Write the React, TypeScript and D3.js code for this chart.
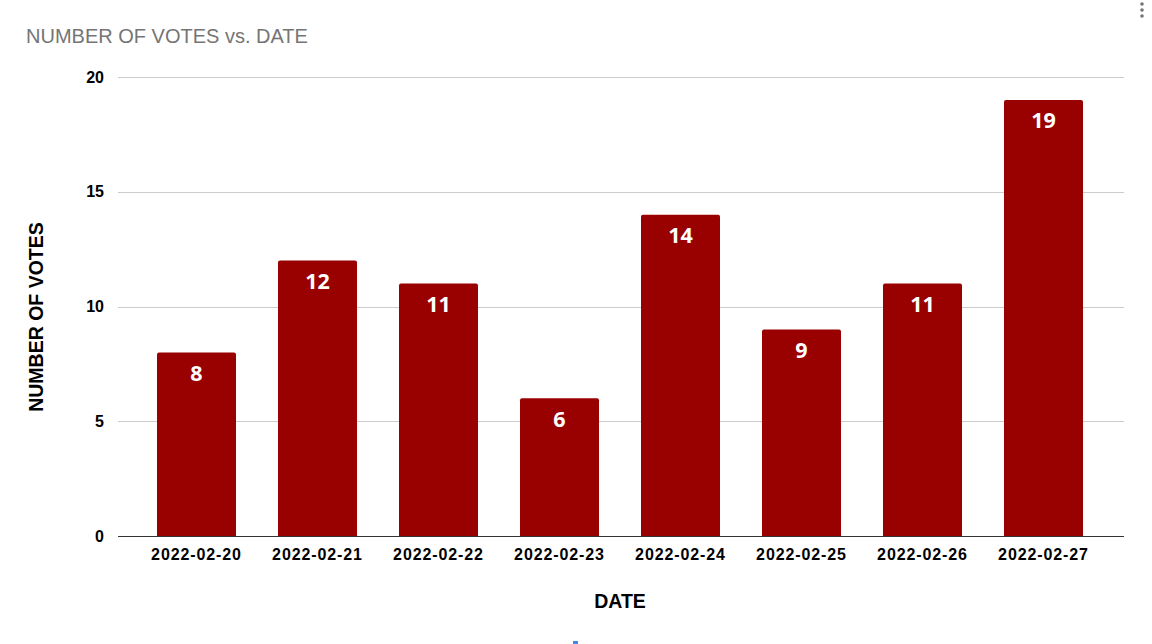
import { useRef, useEffect } from "react";
import * as d3 from "d3";

const dates = [
  "2022-02-20",
  "2022-02-21",
  "2022-02-22",
  "2022-02-23",
  "2022-02-24",
  "2022-02-25",
  "2022-02-26",
  "2022-02-27",
];
const votes = [8, 12, 11, 6, 14, 9, 11, 19];
const yTicks = [0, 5, 10, 15, 20];

const COLORS = {
  bar: "#990000",
  grid: "#cccccc",
  baseline: "#333333",
  title: "#757575",
  text: "#000000",
  label: "#ffffff",
};

const WIDTH = 1152;
const HEIGHT = 644;

export default function App() {
  const svgRef = useRef<SVGSVGElement>(null);

  useEffect(() => {
    if (!svgRef.current) return;
    const svg = d3.select(svgRef.current);
    svg.selectAll("*").remove();

    const plot = { left: 118, right: 1124, top: 77, bottom: 536 };
    const font = "Arial, 'Liberation Sans', sans-serif";

    const x = d3.scaleBand<string>().domain(dates).range([136, 1104]).paddingInner(0.347).paddingOuter(0.1735);
    const y = d3.scaleLinear().domain([0, 20]).range([plot.bottom, plot.top]);

    svg.append("rect").attr("width", WIDTH).attr("height", HEIGHT).attr("fill", "#ffffff");

    // Title
    svg
      .append("text")
      .attr("x", 26)
      .attr("y", 43)
      .attr("fill", COLORS.title)
      .attr("font-family", font)
      .attr("font-size", "20px")
      .text("NUMBER OF VOTES vs. DATE");

    // Menu dots
    svg
      .append("g")
      .selectAll("circle")
      .data([4, 10, 16])
      .enter()
      .append("circle")
      .attr("cx", 1142)
      .attr("cy", (d) => d)
      .attr("r", 1.8)
      .attr("fill", "#757575");

    // Grid
    svg
      .append("g")
      .selectAll("line")
      .data(yTicks.filter((t) => t !== 0))
      .enter()
      .append("line")
      .attr("x1", plot.left)
      .attr("x2", plot.right)
      .attr("y1", (d) => Math.round(y(d)) + 0.5)
      .attr("y2", (d) => Math.round(y(d)) + 0.5)
      .attr("stroke", COLORS.grid);

    // Y tick labels
    svg
      .append("g")
      .selectAll("text")
      .data(yTicks)
      .enter()
      .append("text")
      .attr("x", 104)
      .attr("y", (d) => y(d) + 5.5)
      .attr("text-anchor", "end")
      .attr("font-family", font)
      .attr("font-weight", "bold")
      .attr("font-size", "16px")
      .attr("fill", COLORS.text)
      .text((d) => d);

    // Bars
    const r = 2;
    svg
      .append("g")
      .selectAll("path")
      .data(votes)
      .enter()
      .append("path")
      .attr("fill", COLORS.bar)
      .attr("d", (d, i) => {
        const x0 = x(dates[i])!;
        const x1 = x0 + x.bandwidth();
        const y0 = y(d);
        const yb = y(0);
        return `M${x0},${yb}V${y0 + r}Q${x0},${y0} ${x0 + r},${y0}H${x1 - r}Q${x1},${y0} ${x1},${y0 + r}V${yb}Z`;
      });

    // Bar labels
    svg
      .append("g")
      .selectAll("text")
      .data(votes)
      .enter()
      .append("text")
      .attr("x", (_, i) => x(dates[i])! + x.bandwidth() / 2)
      .attr("y", (d) => y(d) + 28.5)
      .attr("text-anchor", "middle")
      .attr("font-family", "'Open Sans', sans-serif")
      .attr("font-weight", "bold")
      .attr("font-size", "21.5px")
      .attr("fill", COLORS.label)
      .text((d) => d);

    // Baseline
    svg
      .append("line")
      .attr("x1", plot.left)
      .attr("x2", plot.right)
      .attr("y1", y(0) + 0.5)
      .attr("y2", y(0) + 0.5)
      .attr("stroke", COLORS.baseline);

    // X tick labels
    svg
      .append("g")
      .selectAll("text")
      .data(dates)
      .enter()
      .append("text")
      .attr("x", (d) => x(d)! + x.bandwidth() / 2)
      .attr("y", 560)
      .attr("text-anchor", "middle")
      .attr("font-family", font)
      .attr("font-weight", "bold")
      .attr("font-size", "16px")
      .attr("letter-spacing", "0.9px")
      .attr("fill", COLORS.text)
      .text((d) => d);

    // Axis titles
    svg
      .append("text")
      .attr("x", 620)
      .attr("y", 608)
      .attr("text-anchor", "middle")
      .attr("font-family", font)
      .attr("font-weight", "bold")
      .attr("font-size", "19.5px")
      .attr("fill", COLORS.text)
      .text("DATE");

    svg
      .append("text")
      .attr("transform", `translate(43,317) rotate(-90)`)
      .attr("text-anchor", "middle")
      .attr("font-family", font)
      .attr("font-weight", "bold")
      .attr("font-size", "19.5px")
      .attr("fill", COLORS.text)
      .text("NUMBER OF VOTES");

    // small blue marker at bottom edge
    svg.append("rect").attr("x", 573).attr("y", 641).attr("width", 5).attr("height", 3).attr("fill", "#4285f4");
  }, []);

  return (
    <svg
      ref={svgRef}
      width={WIDTH}
      height={HEIGHT}
      style={{ position: "absolute", left: 0, top: 0 }}
    />
  );
}
